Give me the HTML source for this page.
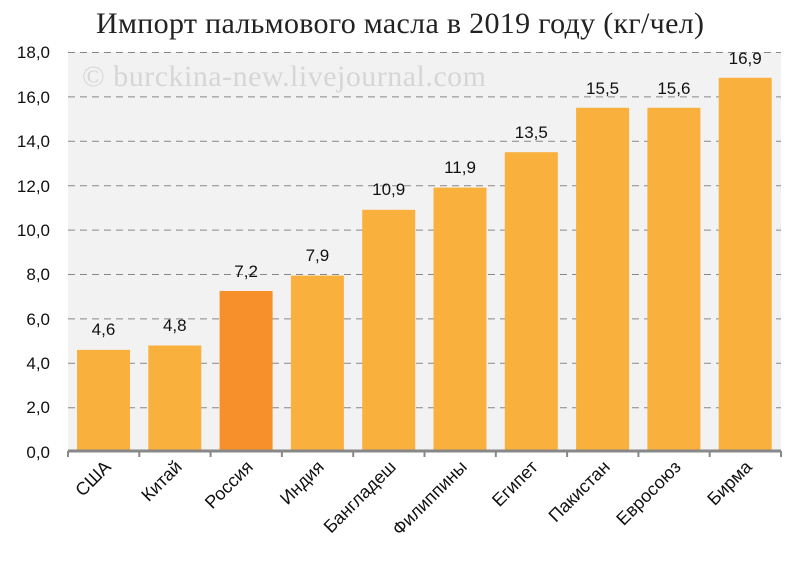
<!DOCTYPE html>
<html><head><meta charset="utf-8"><style>body{margin:0;background:#fff}</style></head><body>
<svg width="800" height="557" xmlns="http://www.w3.org/2000/svg" font-family="'Liberation Sans','DejaVu Sans',sans-serif">
<rect width="800" height="557" fill="#fff"/>
<rect x="68" y="52" width="713" height="399" fill="#F2F2F2"/>
<text x="400" y="33" text-anchor="middle" font-family="'Liberation Serif',serif" font-size="30" textLength="608" fill="#222">Импорт пальмового масла в 2019 году (кг/чел)</text>
<text x="82" y="86" font-family="'Liberation Serif',serif" font-size="30" textLength="404" fill="#d6d6d6">© burckina-new.livejournal.com</text>
<g stroke="#888" stroke-dasharray="7,5" stroke-width="1">
<line x1="68" x2="781" y1="52.5" y2="52.5"/><line x1="68" x2="781" y1="96.9" y2="96.9"/><line x1="68" x2="781" y1="141.3" y2="141.3"/><line x1="68" x2="781" y1="185.7" y2="185.7"/><line x1="68" x2="781" y1="230.1" y2="230.1"/><line x1="68" x2="781" y1="274.5" y2="274.5"/><line x1="68" x2="781" y1="318.9" y2="318.9"/><line x1="68" x2="781" y1="363.3" y2="363.3"/><line x1="68" x2="781" y1="407.7" y2="407.7"/>
</g>
<g font-size="17" fill="#111" text-anchor="end">
<text x="50" y="58">18,0</text><text x="50" y="103">16,0</text><text x="50" y="147">14,0</text><text x="50" y="192">12,0</text><text x="50" y="236">10,0</text><text x="50" y="280">8,0</text><text x="50" y="325">6,0</text><text x="50" y="369">4,0</text><text x="50" y="413">2,0</text><text x="50" y="458">0,0</text>
</g>
<g fill="#F9B03D">
<rect x="77" y="349.9" width="53" height="101.1"/>
<rect x="148.3" y="345.5" width="53" height="105.5"/>
<rect x="219.6" y="291" width="53" height="160" fill="#F7902A"/>
<rect x="290.9" y="275.6" width="53" height="175.4"/>
<rect x="362.2" y="209.8" width="53" height="241.2"/>
<rect x="433.5" y="187.6" width="53" height="263.4"/>
<rect x="504.8" y="152.2" width="53" height="298.8"/>
<rect x="576.1" y="107.8" width="53" height="343.2"/>
<rect x="647.4" y="107.8" width="53" height="343.2"/>
<rect x="718.7" y="77.8" width="53" height="373.2"/>
</g>
<g font-size="17" fill="#111" text-anchor="middle">
<text x="103.5" y="335">4,6</text><text x="174.8" y="331">4,8</text><text x="246.1" y="277">7,2</text><text x="317.4" y="261">7,9</text><text x="388.7" y="195">10,9</text><text x="460" y="173">11,9</text><text x="531.3" y="138">13,5</text><text x="602.6" y="94">15,5</text><text x="673.9" y="94">15,6</text><text x="745.2" y="64">16,9</text>
</g>
<line x1="68" x2="781" y1="451" y2="451" stroke="#888" stroke-width="3"/>
<g stroke="#888" stroke-width="2">
<line x1="68" x2="68" y1="451" y2="457"/><line x1="139.3" x2="139.3" y1="451" y2="457"/><line x1="210.6" x2="210.6" y1="451" y2="457"/><line x1="281.9" x2="281.9" y1="451" y2="457"/><line x1="353.2" x2="353.2" y1="451" y2="457"/><line x1="424.5" x2="424.5" y1="451" y2="457"/><line x1="495.8" x2="495.8" y1="451" y2="457"/><line x1="567.1" x2="567.1" y1="451" y2="457"/><line x1="638.4" x2="638.4" y1="451" y2="457"/><line x1="709.7" x2="709.7" y1="451" y2="457"/><line x1="781" x2="781" y1="451" y2="457"/>
</g>
<g font-size="18" fill="#111" text-anchor="end">
<text transform="translate(112,468) rotate(-45)">США</text>
<text transform="translate(183,468) rotate(-45)">Китай</text>
<text transform="translate(254,468) rotate(-45)">Россия</text>
<text transform="translate(325,468) rotate(-45)">Индия</text>
<text transform="translate(397,468) rotate(-45)">Бангладеш</text>
<text transform="translate(468,468) rotate(-45)">Филиппины</text>
<text transform="translate(539,468) rotate(-45)">Египет</text>
<text transform="translate(611,468) rotate(-45)">Пакистан</text>
<text transform="translate(682,468) rotate(-45)">Евросоюз</text>
<text transform="translate(753,468) rotate(-45)">Бирма</text>
</g>
</svg>
</body></html>
